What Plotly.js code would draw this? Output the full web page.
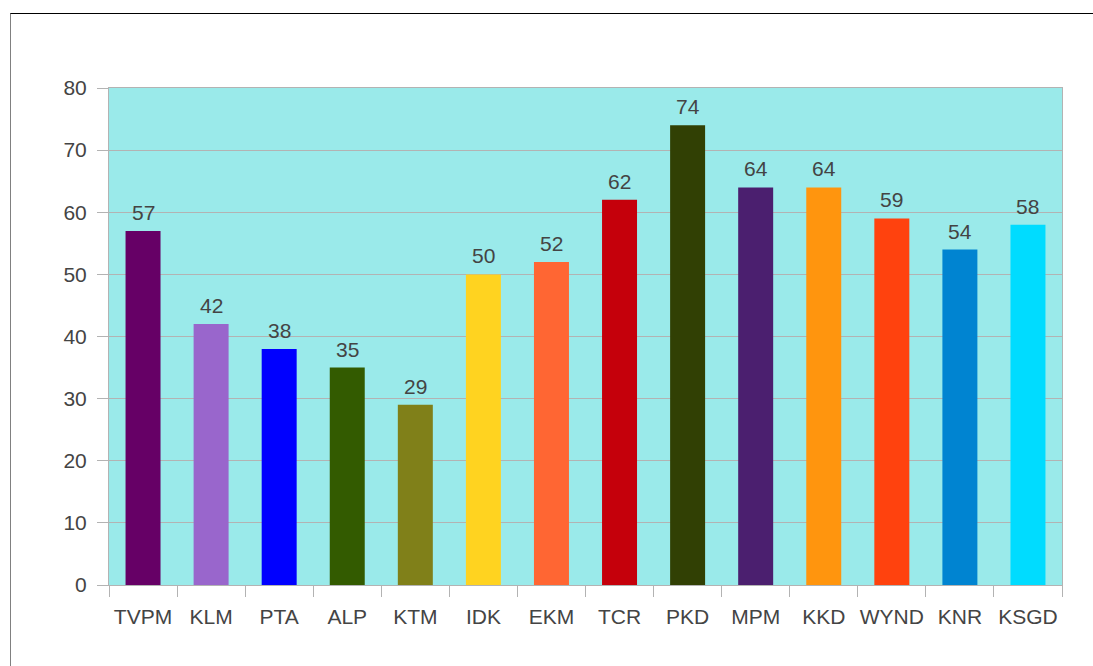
<!DOCTYPE html>
<html>
<head>
<meta charset="utf-8">
<script src="https://cdn.plot.ly/plotly-3.0.1.min.js"></script>
<style>
  html, body { margin: 0; padding: 0; background: #fff; }
  #wrap { position: relative; width: 1093px; height: 666px; overflow: hidden; }
  #chart { position: absolute; left: 0; top: 0; width: 1093px; height: 666px; }
  #frame { position: absolute; left: 10px; top: 13px; width: 1083px; height: 653px;
           border-top: 1px solid #000; border-left: 1px solid #808080; box-sizing: border-box; pointer-events: none; }
</style>
</head>
<body>
<div id="wrap">
  <div id="chart"></div>
  <div id="frame"></div>
</div>
<script>
const districts = ["TVPM", "KLM", "PTA", "ALP", "KTM", "IDK", "EKM", "TCR", "PKD", "MPM", "KKD", "WYND", "KNR", "KSGD"];
const values = [57, 42, 38, 35, 29, 50, 52, 62, 74, 64, 64, 59, 54, 58];
const barColors = ["#660066", "#9966CC", "#0000FF", "#335B00", "#808019", "#FFD320", "#FF6633",
                   "#C5000B", "#314004", "#4B1F6F", "#FF950E", "#FF420E", "#0084D1", "#00DCFF"];
const yTicks = [0, 10, 20, 30, 40, 50, 60, 70, 80];

const FONT = "Liberation Sans, Arial, sans-serif";

const trace = {
  type: "bar",
  x: districts,
  y: values,
  marker: { color: barColors, line: { width: 0 } },
  hoverinfo: "x+y"
};

const labels = districts.map((d, i) => ({
  x: d,
  y: values[i],
  text: String(values[i]),
  showarrow: false,
  xanchor: "center",
  yanchor: "bottom",
  yshift: 5,
  font: { family: FONT, size: 21, color: "#444444" }
}));

const layout = {
  width: 1093,
  height: 666,
  margin: { l: 109, r: 31, t: 88, b: 81, pad: 0 },
  paper_bgcolor: "rgba(0,0,0,0)",
  plot_bgcolor: "#9AEAEA",
  bargap: 0.486,
  showlegend: false,
  font: { family: FONT, size: 21, color: "#444444" },
  annotations: labels,
  xaxis: {
    type: "category",
    showline: true, linecolor: "#B3B3B3", linewidth: 1, mirror: true,
    ticks: "outside", tickson: "boundaries", ticklen: 11, tickcolor: "#B3B3B3", tickwidth: 1,
    showgrid: false,
    tickangle: 0,
    automargin: false,
    ticklabelstandoff: 13,
    tickfont: { family: FONT, size: 21, color: "#444444" }
  },
  yaxis: {
    range: [0, 80],
    tickvals: yTicks,
    ticktext: yTicks.map(String),
    showline: true, linecolor: "#B3B3B3", linewidth: 1, mirror: true,
    ticks: "outside", ticklen: 11, tickcolor: "#B3B3B3", tickwidth: 1,
    showgrid: true, gridcolor: "#B3B3B3", gridwidth: 1,
    zeroline: false,
    ticklabelstandoff: 6,
    tickfont: { family: FONT, size: 21, color: "#444444" }
  }
};

Plotly.newPlot("chart", [trace], layout, { displayModeBar: false, staticPlot: true });
</script>
</body>
</html>
